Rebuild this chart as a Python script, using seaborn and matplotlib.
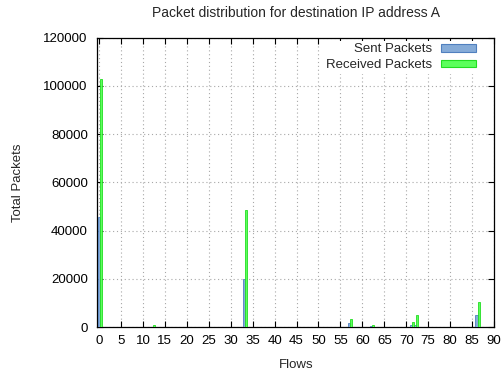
import numpy as np
import pandas as pd
import matplotlib
matplotlib.use("Agg")
import matplotlib.pyplot as plt
from matplotlib.patches import Patch
import seaborn as sns

# ---- data ----
flows = [0, 12, 33, 57, 62, 71, 72, 86]
sent_packets = [45800, 100, 19900, 1800, 300, 900, 1000, 5000]
received_packets = [102800, 800, 48700, 3500, 1000, 2000, 5000, 10500]
series_names = ["Sent Packets", "Received Packets"]
x_ticks = list(range(0, 91, 5))
y_ticks = list(range(0, 120001, 20000))
title = "Packet distribution for destination IP address A"
x_label = "Flows"
y_label = "Total Packets"

fill_colors = ["#86acd8", "#5cff5c"]
edge_colors = ["#5080bf", "#22dd22"]

sns.set_style("white")
plt.rcParams['font.family'] = ['Liberation Sans', 'DejaVu Sans']
plt.rcParams['font.size'] = 9.5

df = pd.DataFrame({
    "pos": np.array(flows + flows, dtype=float) + 0.25,
    "Packets": sent_packets + received_packets,
    "Series": [series_names[0]] * len(flows) + [series_names[1]] * len(flows),
})

fig = plt.figure(figsize=(5.02, 3.70), dpi=100)
ax = fig.add_axes([97.5 / 502, 1 - 327 / 370, (494 - 97.5) / 502, (327 - 37.7) / 370])

sns.barplot(data=df, x="pos", y="Packets", hue="Series", hue_order=series_names,
            palette=fill_colors, native_scale=True, width=1.0, dodge=True,
            linewidth=0.6, saturation=1, legend=False, ax=ax, zorder=3)
for cont, ec in zip(ax.containers, edge_colors):
    for p in cont:
        p.set_edgecolor(ec)

ax.set_xlim(-0.35, 90)
ax.set_ylim(0, 120000)
ax.set_xticks(x_ticks)
ax.set_xticklabels([str(t) for t in x_ticks])
ax.set_yticks(y_ticks)
ax.set_yticklabels([str(t) for t in y_ticks])

ax.grid(True, color="#a8a8a8", linestyle=(0, (1, 2.5)), linewidth=0.8, zorder=0)
ax.set_axisbelow(True)
for s in ax.spines.values():
    s.set_color("black")
    s.set_linewidth(0.9)
    s.set_visible(True)
ax.tick_params(direction="in", length=4, width=0.8, top=True, right=True,
               bottom=True, left=True, labelsize=9.5, colors="black")
ax.tick_params(axis="x", pad=6)
ax.tick_params(axis="y", pad=7)

ax.set_title(title, fontsize=10, pad=15)
ax.set_xlabel(x_label, fontsize=9.5, labelpad=8.5)
ax.set_ylabel(y_label, fontsize=9.5, labelpad=14)

handles = [Patch(facecolor=fc, edgecolor=ec, linewidth=0.8) for fc, ec in zip(fill_colors, edge_colors)]
leg = ax.legend(handles, series_names, loc="upper right", bbox_to_anchor=(0.962, 0.99),
                frameon=True, facecolor="white", edgecolor="none", framealpha=1.0,
                fancybox=False, markerfirst=False, borderpad=0.2, borderaxespad=0,
                handlelength=2.7, handleheight=0.55, handletextpad=0.65, labelspacing=0.3,
                fontsize=9.5)
leg.set_zorder(5)

fig.savefig("out.png", dpi=100)
